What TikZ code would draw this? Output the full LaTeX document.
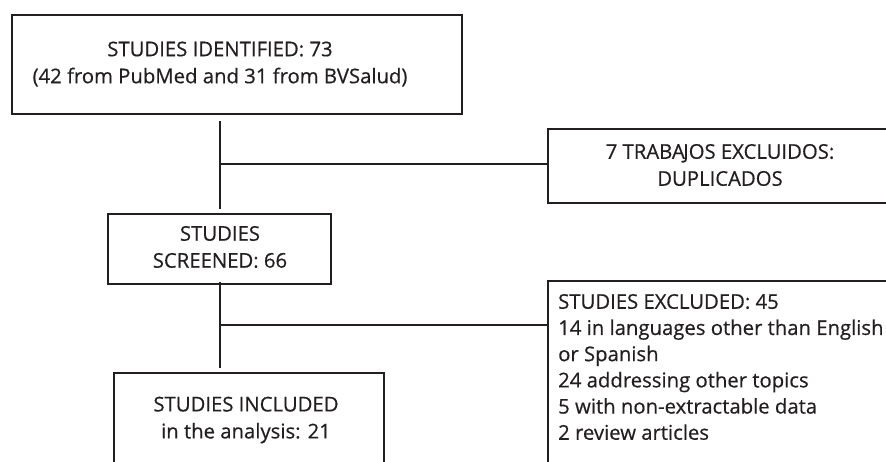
\documentclass[tikz,border=0pt]{standalone}
\usepackage{fontspec}
\setmainfont{Open Sans}[FakeBold=0.5]
\usetikzlibrary{calc}
\definecolor{ink}{HTML}{231F20}
\begin{document}
\begin{tikzpicture}[x=1pt,y=-1pt,
  box/.style={draw=ink, line width=2pt, anchor=north west, inner sep=0pt},
  txt/.style={text=ink, font=\fontsize{20.3}{27}\selectfont, inner sep=0pt, align=center},
  ltxt/.style={text=ink, font=\fontsize{20.3}{26.2}\selectfont, inner sep=0pt, align=left, anchor=west},
  link/.style={draw=ink, line width=2pt}]
\useasboundingbox (0,0) rectangle (886,462);
\clip (0,0) rectangle (886,462);
% boxes
\node[box, minimum width=450pt, minimum height=99pt] (ident) at (11,14) {};
\node[box, minimum width=360pt, minimum height=74pt] (dup) at (547,128) {};
\node[box, minimum width=223pt, minimum height=70pt] (screen) at (107,213) {};
\node[box, minimum width=360pt, minimum height=200pt] (excl) at (547,280) {};
\node[box, minimum width=270pt, minimum height=120pt] (incl) at (113,372) {};
% texts
\node[txt] (identtxt) at (220,64) {STUDIES IDENTIFIED: 73\\(42 from PubMed and 31 from BVSalud)};
\node[txt] (duptxt) at (720,165) {7 TRABA\kern-1.5pt JOS EXCLUIDOS:\\DUPLICADOS};
\node[txt] (screentxt) at (220,247) {STUDIES\\SCREENED: 66};
\node[txt] (incltxt) at (246,420) {STUDIES INCLUDED\\in the analysis: 21};
\node[ltxt] (excltxt) at (558,367) {STUDIES EXCLUDED: 45\\14 in languages other than English\\or Spanish\\24 addressing other topics\\5 with non-extractable data\\2 review articles};
% connectors
\coordinate (j1) at (220,164);
\coordinate (j2) at (220,325);
\draw[link] ($(ident.south -| j1)+(0,6)$) -- ($(screen.north -| j1)+(0,-4)$);
\draw[link] (j1) -- (j1 -| dup.west);
\draw[link] ($(screen.south -| j2)+(0,-3)$) -- ($(incl.north -| j2)+(0,-4)$);
\draw[link] (j2) -- (j2 -| excl.west);
\end{tikzpicture}
\end{document}
